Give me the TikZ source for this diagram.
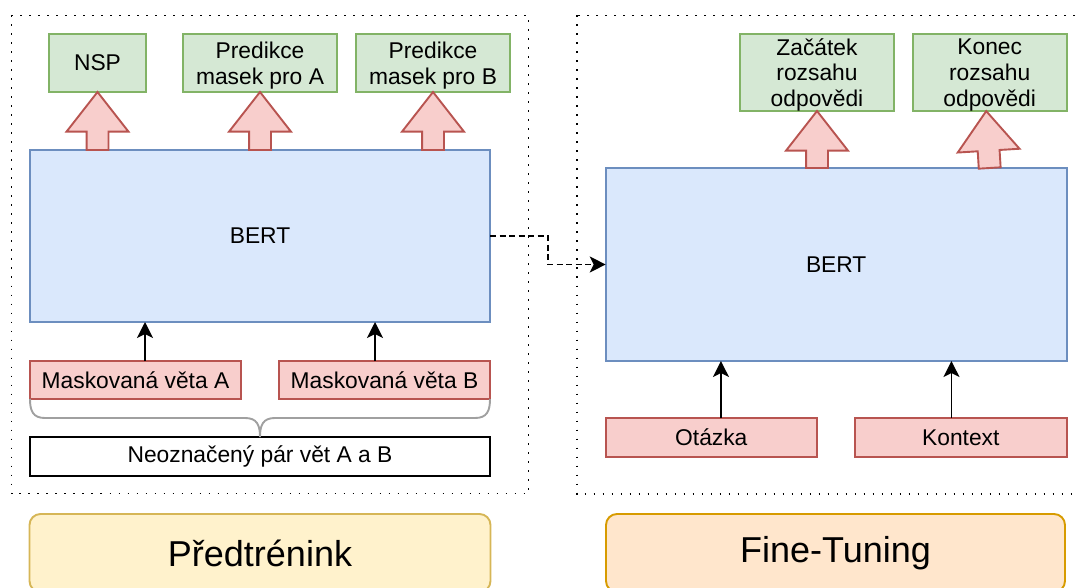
\documentclass[tikz,border=0pt]{standalone}
\usepackage{fontspec}
\setmainfont{Liberation Sans}
\usetikzlibrary{arrows.meta,shapes.arrows,calc}
\definecolor{gfill}{HTML}{D5E8D4}\definecolor{gline}{HTML}{82B366}
\definecolor{rfill}{HTML}{F8CECC}\definecolor{rline}{HTML}{B85450}
\definecolor{bfill}{HTML}{DAE8FC}\definecolor{bline}{HTML}{6C8EBF}
\definecolor{yfill}{HTML}{FFF2CC}\definecolor{yline}{HTML}{D6B656}
\definecolor{ofill}{HTML}{FFE6CC}\definecolor{oline}{HTML}{D79B00}
\definecolor{bracegray}{HTML}{A0A0A0}
\begin{document}
\begin{tikzpicture}[x=1pt,y=-1pt,
  every node/.style={font=\fontsize{22.8pt}{25.7pt}\selectfont, inner sep=0pt, outer sep=0pt},
  box/.style={draw, line width=1.9pt, align=center},
  outbox/.style={box, draw=gline, fill=gfill, text depth=0pt},
  inbox/.style={box, draw=rline, fill=rfill},
  bertbox/.style={box, draw=bline, fill=bfill},
  plainbox/.style={box, draw=black, fill=white},
  stage/.style={draw, line width=1.9pt, rounded corners=11pt, font=\fontsize{36pt}{40pt}\selectfont},
  frame/.style={line width=1.9pt, dash pattern=on 1.9pt off 7.1pt},
  feed/.style={line width=1.9pt, -{Stealth[length=16pt,width=16pt,inset=4pt]}},
  handoff/.style={feed, dash pattern=on 6pt off 3.5pt},
  lift/.style={single arrow, draw=rline, fill=rfill, line width=1.9pt,
    single arrow head extend=20pt, single arrow tip angle=76,
    inner xsep=0pt, inner ysep=10pt, anchor=west},
  brace/.style={draw=bracegray, line width=1.9pt}
]
\useasboundingbox (0,0) rectangle (1076,588);

% dotted frames around the two stages
\draw[frame] (11.5,15.5) rectangle (528.5,493.5);
\draw[frame] (577,15.5) rectangle (1090,494);

% ---------- pre-training ----------
\node[outbox, minimum width=97, minimum height=58] (nsp) at (97.5,63) {NSP};
\node[outbox, minimum width=154, minimum height=58] (pa) at (260,63) {Predikce\\masek pro A};
\node[outbox, minimum width=154, minimum height=58] (pb) at (433,63) {Predikce\\masek pro B};
\node[bertbox, minimum width=460, minimum height=172] (bertL) at (260,236) {BERT};
\node[inbox, minimum width=211, minimum height=38] (ma) at (135.5,380) {Maskovaná věta A};
\node[inbox, minimum width=211, minimum height=38] (mb) at (384.5,380) {Maskovaná věta B};
\node[plainbox, minimum width=460, minimum height=39] (pair) at (260,456.5) {Neoznačený pár vět A a B};

\node[lift, minimum height=58, rotate=90] at (bertL.north -| nsp.south) {};
\node[lift, minimum height=58, rotate=90] at (bertL.north -| pa.south) {};
\node[lift, minimum height=58, rotate=90] at (bertL.north -| pb.south) {};

\coordinate (lq1) at ($(bertL.south west)!0.25!(bertL.south east)$);
\coordinate (lq3) at ($(bertL.south west)!0.75!(bertL.south east)$);
\draw[feed] (ma.north -| lq1) -- (lq1);
\draw[feed] (mb.north -| lq3) -- (lq3);

\draw[brace] (ma.south west) .. controls +(0,12) and +(-12,0) .. +(15,19)
  -- ($(pair.north)+(-15,-19)$) .. controls +(12,0) and +(0,-12) .. (pair.north)
  .. controls +(0,-12) and +(-12,0) .. +(15,-19)
  -- ($(mb.south east)+(-15,19)$) .. controls +(12,0) and +(0,12) .. (mb.south east);

% ---------- fine-tuning ----------
\node[outbox, minimum width=154, minimum height=77] (start) at (817,72.5) {Začátek\\rozsahu\\odpovědi};
\node[outbox, minimum width=154, minimum height=77] (end) at (989.7,72.5) {Konec\\rozsahu\\odpovědi};
\node[bertbox, minimum width=461, minimum height=193] (bertR) at (836.2,264.5) {BERT};
\node[inbox, minimum width=211, minimum height=39] (q) at (711.3,437.5) {Otázka};
\node[inbox, minimum width=211.7, minimum height=39] (ctx) at (960.8,437.5) {Kontext};

\node[lift, minimum height=57, rotate=90] at (bertR.north -| start.south) {};
\node[lift, minimum height=57, rotate=93.5] at (bertR.north -| end.south) {};

\coordinate (rq1) at ($(bertR.south west)!0.25!(bertR.south east)$);
\coordinate (rq3) at ($(bertR.south west)!0.75!(bertR.south east)$);
\draw[feed] (q.north -| rq1) -- (rq1);
\draw[feed] (ctx.north -| rq3) -- (rq3);

% hand-over of the trained model
\draw[handoff] (bertL.east) -- ++(58,0) |- (bertR.west);

% ---------- stage labels ----------
\node[stage, draw=yline, fill=yfill, minimum width=461, minimum height=78] (pre) at (260,553) {Předtrénink};
\node[stage, draw=oline, fill=ofill, minimum width=459, minimum height=78] (ft) at (835.5,553) {Fine-Tuning};
\end{tikzpicture}
\end{document}
